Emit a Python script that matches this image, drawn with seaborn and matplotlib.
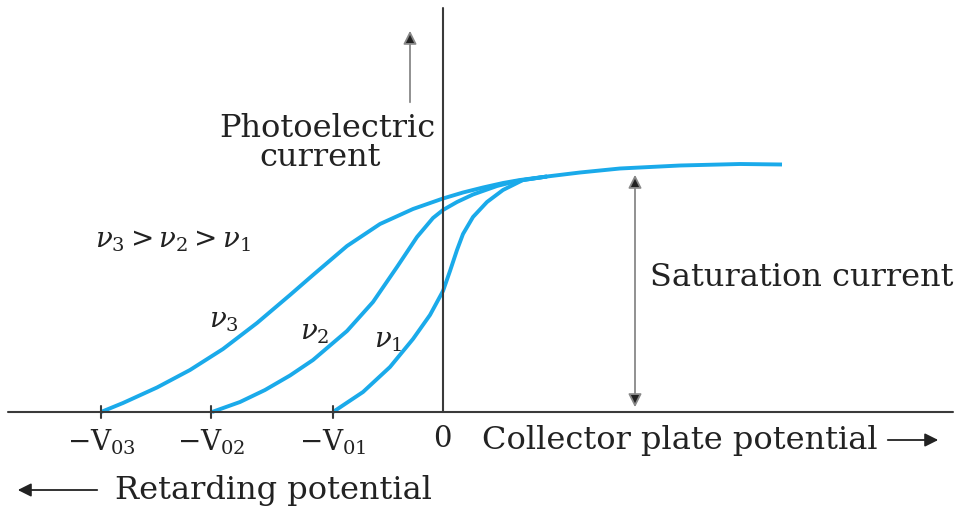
import numpy as np
import pandas as pd
import seaborn as sns
import matplotlib.pyplot as plt

# Photoelectric current vs collector plate potential for three frequencies
# x: potential (arbitrary units, 0 at the current axis), y: current (arbitrary units)

stop_potentials = [-3.42, -2.32, -1.10]          # -V03, -V02, -V01
stop_labels = [r'$-\mathrm{V}_{03}$', r'$-\mathrm{V}_{02}$', r'$-\mathrm{V}_{01}$']

nu3_x = [-3.42, -3.20, -2.86, -2.53, -2.20, -1.86, -1.53, -1.30, -0.96, -0.63,
         -0.30, 0.00, 0.20, 0.40, 0.60, 0.77, 1.04, 1.37, 1.77, 2.37, 2.97, 3.39]
nu3_y = [0.00, 0.09, 0.245, 0.42, 0.63, 0.89, 1.17, 1.37, 1.66, 1.88,
         2.03, 2.135, 2.195, 2.245, 2.29, 2.32, 2.355, 2.395, 2.435, 2.465, 2.48, 2.475]

nu2_x = [-2.31, -2.03, -1.78, -1.53, -1.30, -0.96, -0.70, -0.46, -0.26, -0.10,
         0.00, 0.14, 0.30, 0.54, 0.74, 1.04]
nu2_y = [0.00, 0.10, 0.22, 0.365, 0.52, 0.81, 1.10, 1.45, 1.75, 1.94,
         2.02, 2.10, 2.175, 2.26, 2.31, 2.355]

nu1_x = [-1.10, -0.80, -0.53, -0.30, -0.13, 0.00, 0.07, 0.14, 0.20, 0.30,
         0.44, 0.60, 0.80, 1.04]
nu1_y = [0.00, 0.20, 0.45, 0.73, 0.97, 1.21, 1.41, 1.62, 1.78, 1.95,
         2.10, 2.22, 2.32, 2.355]

saturation = 2.40
sat_arrow_x = 1.92

curves = pd.concat([
    pd.DataFrame({'V': nu3_x, 'I': nu3_y, 'freq': 'nu3'}),
    pd.DataFrame({'V': nu2_x, 'I': nu2_y, 'freq': 'nu2'}),
    pd.DataFrame({'V': nu1_x, 'I': nu1_y, 'freq': 'nu1'}),
])

sns.set_style('white')
plt.rcParams['font.family'] = ['DejaVu Serif']
plt.rcParams['mathtext.fontset'] = 'dejavuserif'

fig = plt.figure(figsize=(9.69, 5.16), dpi=100)
ax = fig.add_axes([0, 0, 1, 1])
ax.set_xlim(-4.43, 5.26)
ax.set_ylim(-1.04, 4.12)
ax.axis('off')

blue = '#1aaaea'
axis_col = '#3a3a3a'
txt = '#222222'
fs = 23

sns.lineplot(data=curves, x='V', y='I', units='freq', estimator=None, sort=False,
             color=blue, linewidth=2.8, ax=ax, legend=False,
             solid_joinstyle='round', solid_capstyle='butt')

# axes
ax.plot([-4.35, 5.10], [0, 0], color=axis_col, lw=1.5)
ax.plot([0, 0], [0, 4.04], color=axis_col, lw=1.5)

# ticks and tick labels
for xv, lab in zip(stop_potentials, stop_labels):
    ax.plot([xv, xv], [-0.06, 0.06], color=axis_col, lw=1.5)
    ax.text(xv, -0.30, lab, ha='center', va='center', fontsize=20, color=txt)
ax.text(-0.01, -0.27, '0', ha='center', va='center', fontsize=21, color=txt)

ax.text(0.39, -0.28, 'Collector plate potential', ha='left', va='center',
        fontsize=fs, color=txt)
ax.annotate('', xy=(4.98, -0.28), xytext=(4.42, -0.28),
            arrowprops=dict(arrowstyle='-|>', color=txt, lw=1.3, mutation_scale=20))

ax.text(-3.28, -0.78, 'Retarding potential', ha='left', va='center',
        fontsize=fs, color=txt)
ax.annotate('', xy=(-4.28, -0.78), xytext=(-3.43, -0.78),
            arrowprops=dict(arrowstyle='-|>', color=txt, lw=1.3, mutation_scale=20))

# current axis label with up arrow
ax.annotate('', xy=(-0.33, 3.84), xytext=(-0.33, 3.07),
            arrowprops=dict(arrowstyle='-|>', lw=1.3, mutation_scale=20,
                            fc=txt, ec='#888888'))
ax.text(-1.16, 2.84, 'Photoelectric', ha='center', va='center', fontsize=fs, color=txt)
ax.text(-1.23, 2.54, 'current', ha='center', va='center', fontsize=fs, color=txt)

# frequency labels
ax.text(-3.48, 1.72, r'$\nu_3 > \nu_2 > \nu_1$', ha='left', va='center', fontsize=20,
        color=txt)
ax.text(-2.19, 0.92, r'$\nu_3$', ha='center', va='center', fontsize=20, color=txt)
ax.text(-1.28, 0.80, r'$\nu_2$', ha='center', va='center', fontsize=20, color=txt)
ax.text(-0.55, 0.71, r'$\nu_1$', ha='center', va='center', fontsize=20, color=txt)

# saturation current double arrow
ax.annotate('', xy=(sat_arrow_x, saturation), xytext=(sat_arrow_x, 0.02),
            arrowprops=dict(arrowstyle='<|-|>', lw=1.3, mutation_scale=20,
                            fc=txt, ec='#888888'))
ax.text(2.07, 1.35, 'Saturation current', ha='left', va='center', fontsize=fs,
        color=txt)

fig.savefig('out.png', dpi=100)
